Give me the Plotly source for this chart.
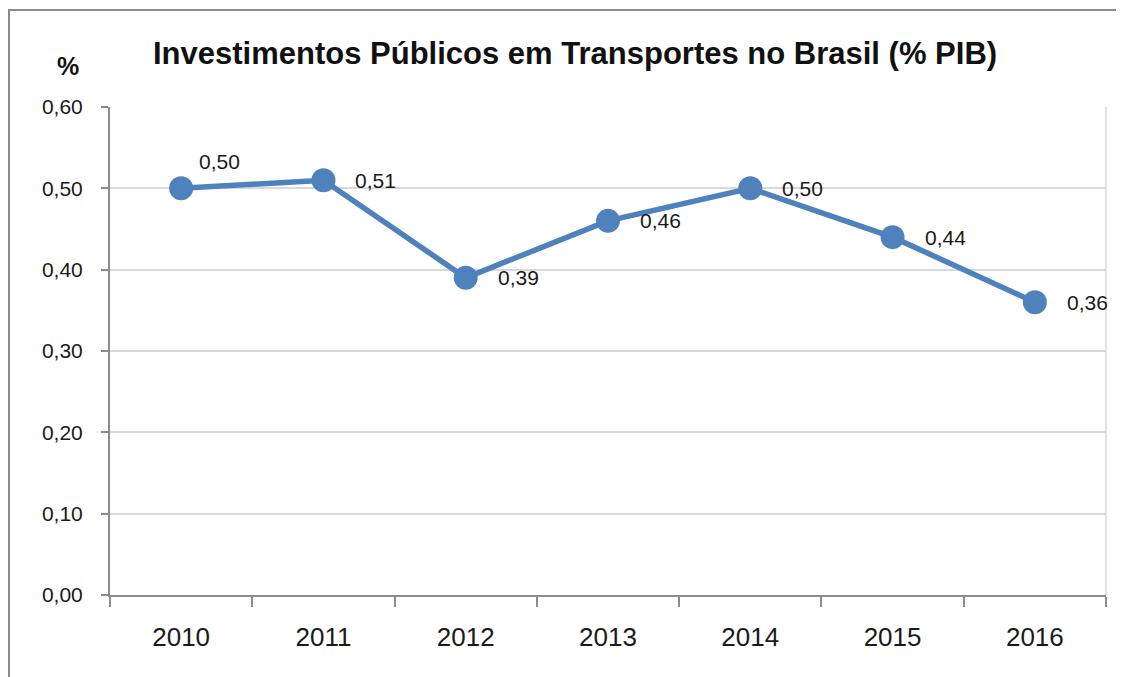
import plotly.graph_objects as go

years = ["2010", "2011", "2012", "2013", "2014", "2015", "2016"]
values = [0.50, 0.51, 0.39, 0.46, 0.50, 0.44, 0.36]
labels = ["0,50", "0,51", "0,39", "0,46", "0,50", "0,44", "0,36"]
ytick_vals = [0.0, 0.1, 0.2, 0.3, 0.4, 0.5, 0.6]
ytick_text = ["0,00", "0,10", "0,20", "0,30", "0,40", "0,50", "0,60"]

OFF = 8  # page body margin
W, H = 1124 - OFF, 677 - OFF
L, R, T, B = 110, 1106, 107, 595  # plot area in page pixels

def px(x):
    return (x - L) / (R - L)

def py(y):
    return (B - y) / (B - T)

color = "#4F81BD"
font_family = "Liberation Sans, Arial, sans-serif"

xpos = list(range(len(years)))
boundaries = [i - 0.5 for i in range(len(years) + 1)]

fig = go.Figure()
fig.add_trace(go.Scatter(
    x=xpos, y=values, mode="lines+markers",
    line=dict(color=color, width=5.5),
    marker=dict(color=color, size=24),
    hoverinfo="skip", showlegend=False,
))

annotations = []
for i, (v, lab) in enumerate(zip(values, labels)):
    if i == 0:
        xs, ys = 16, 27
    else:
        xs, ys = 30, 0
    annotations.append(dict(
        x=xpos[i], y=v, xref="x", yref="y", text=lab, showarrow=False,
        xanchor="left", yanchor="middle", xshift=xs, yshift=ys,
        font=dict(family=font_family, size=21, color="#1a1a1a"),
    ))

annotations.append(dict(
    x=px(575), y=py(53), xref="paper", yref="paper",
    text="<b>Investimentos Públicos em Transportes no Brasil (% PIB)</b>",
    showarrow=False, xanchor="center", yanchor="middle",
    font=dict(family=font_family, size=31, color="#111111"),
))
annotations.append(dict(
    x=px(68), y=py(66), xref="paper", yref="paper", text="<b>%</b>",
    showarrow=False, xanchor="center", yanchor="middle",
    font=dict(family=font_family, size=25, color="#111111"),
))

fig.update_layout(
    width=W, height=H,
    margin=dict(l=L - OFF, r=W - (R - OFF), t=T - OFF, b=H - (B - OFF), pad=0),
    paper_bgcolor="white", plot_bgcolor="white",
    annotations=annotations,
    shapes=[
        dict(type="rect", xref="paper", yref="paper",
             x0=px(9), y0=py(720), x1=px(1160), y1=py(10),
             line=dict(color="#8c8c8c", width=2), layer="below"),
        dict(type="line", xref="paper", yref="paper",
             x0=1, x1=1, y0=0, y1=1,
             line=dict(color="#d9d9d9", width=1.5)),
    ],
    xaxis=dict(
        type="linear", range=[-0.5, len(years) - 0.5],
        tickvals=xpos, ticktext=years,
        showgrid=False, showline=True, zeroline=False,
        linecolor="#8c8c8c", linewidth=2,
        ticks="",
        minor=dict(tickvals=boundaries, ticks="outside", ticklen=10,
                   tickcolor="#8c8c8c", tickwidth=2, showgrid=False),
        tickfont=dict(family=font_family, size=26, color="#1a1a1a"),
        ticklabelstandoff=18,
        fixedrange=True,
    ),
    yaxis=dict(
        range=[0, 0.6], tickvals=ytick_vals, ticktext=ytick_text,
        showgrid=True, gridcolor="#d9d9d9", gridwidth=1.5,
        showline=True, linecolor="#8c8c8c", linewidth=2,
        ticks="outside", ticklen=7, tickcolor="#8c8c8c", tickwidth=2,
        tickfont=dict(family=font_family, size=21, color="#1a1a1a"),
        ticklabelstandoff=14, zeroline=False,
        fixedrange=True,
    ),
)

fig.write_html("out.html")
